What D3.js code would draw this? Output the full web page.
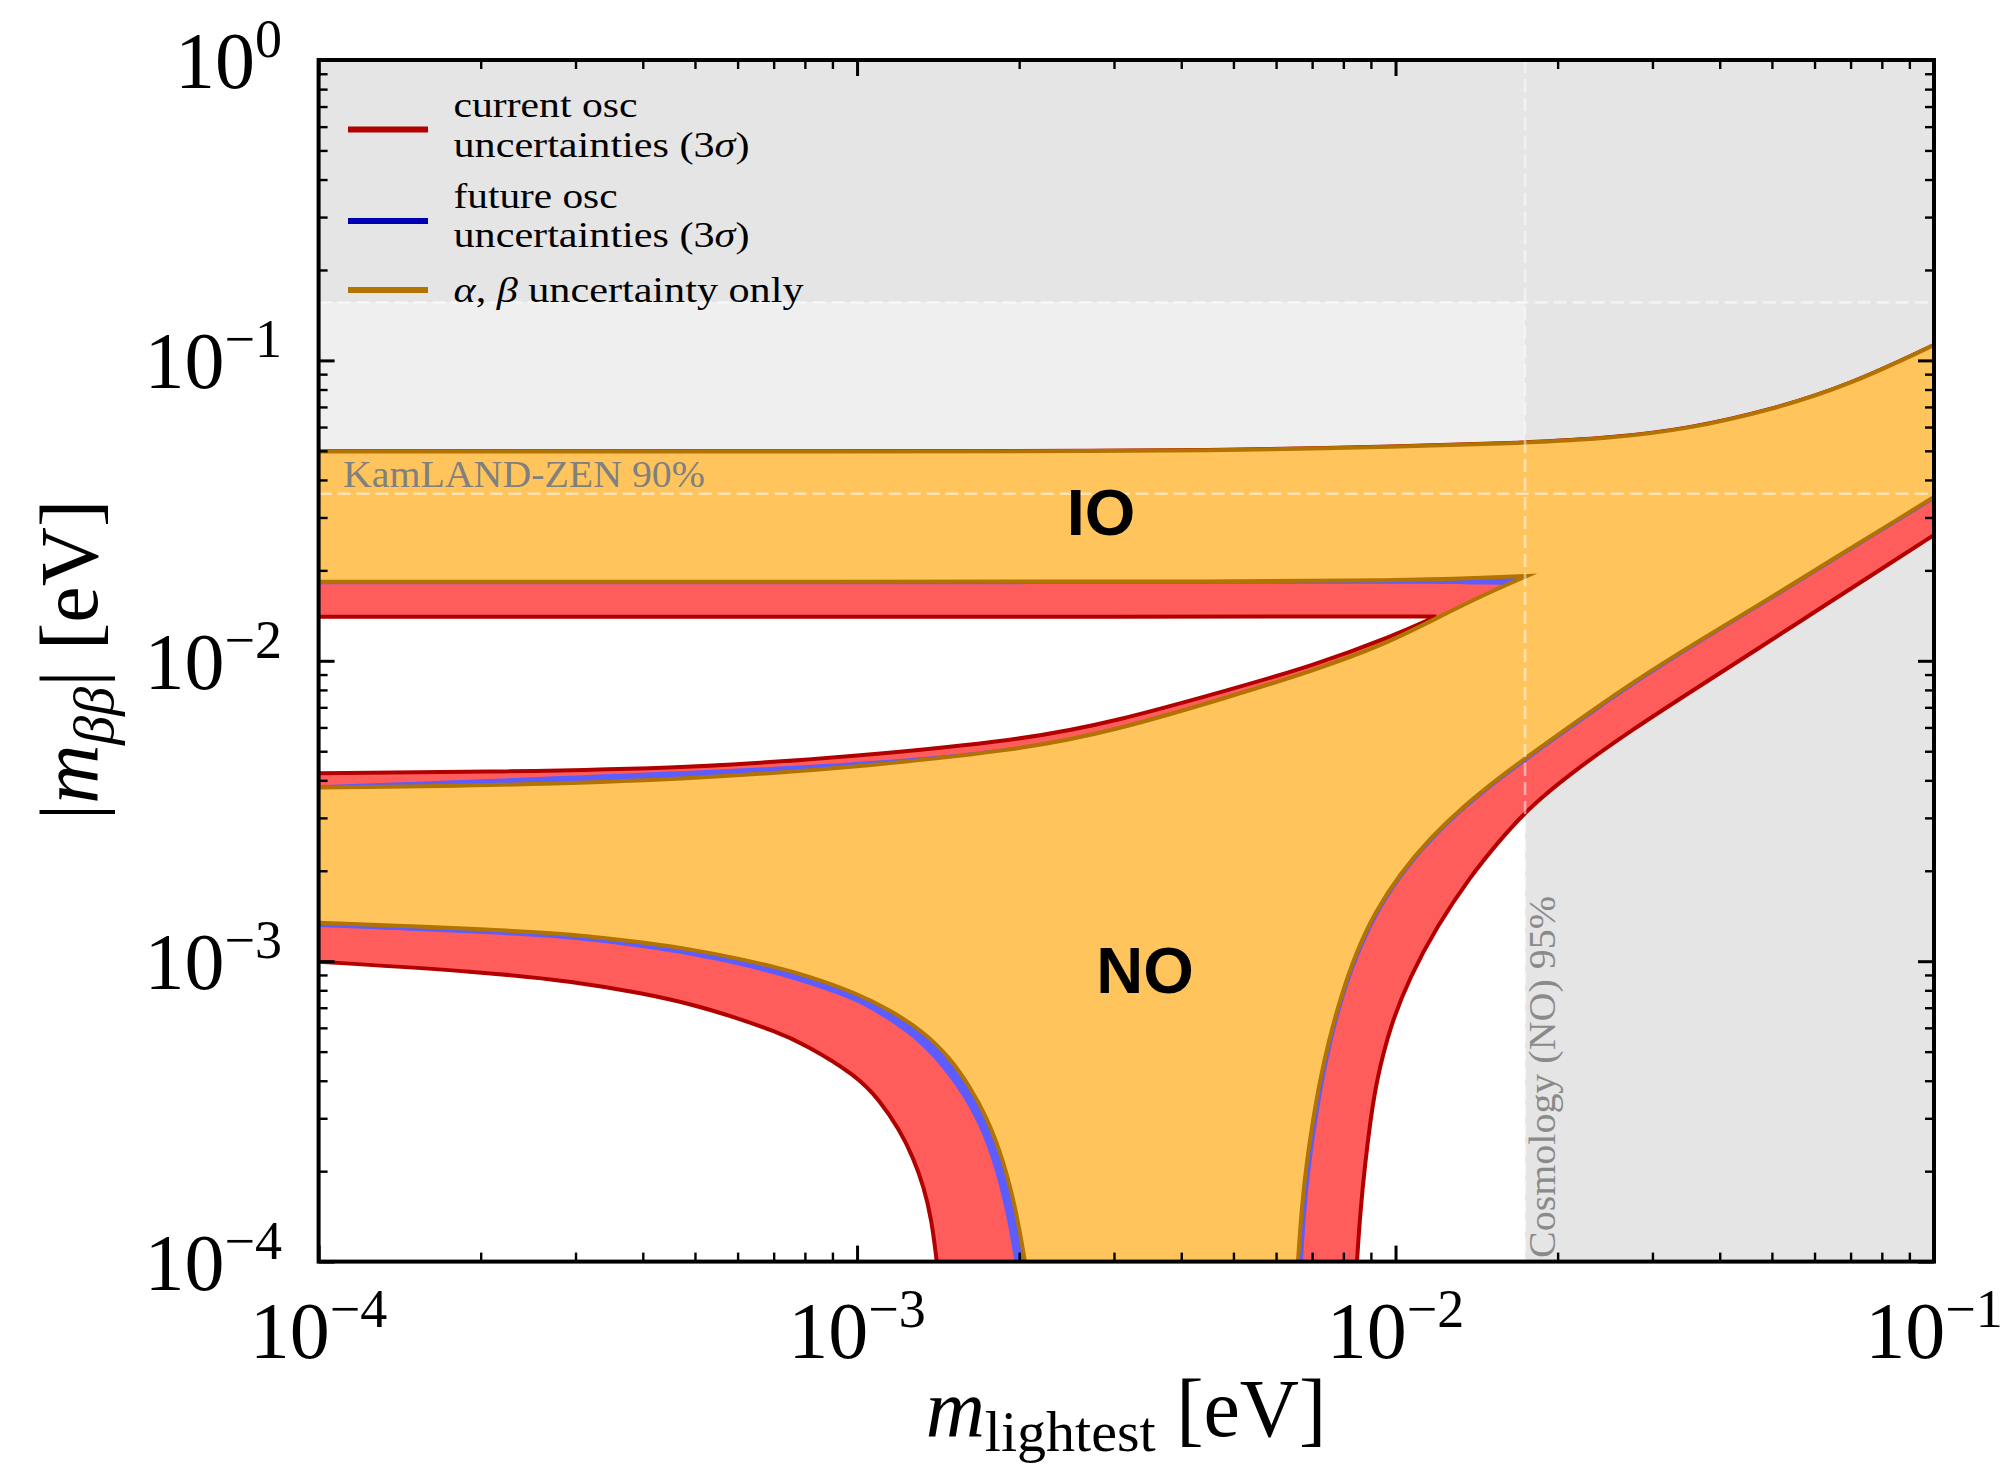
<!DOCTYPE html>
<html>
<head>
<meta charset="utf-8">
<script src="https://cdn.jsdelivr.net/npm/d3@7"></script>
<style>
  body { margin: 0; background: #fff; }
  svg { display: block; }
</style>
</head>
<body>
<svg id="chart" width="2012" height="1467"></svg>
<script>
// ---------------- DATA ----------------
// each point: [m_lightest (eV), |m_bb| (eV)]

// IO band upper edge
const ioUpperOrange = [[1e-4,0.0497],[1e-3,0.0497],[3e-3,0.0499],[5e-3,0.0503],[1e-2,0.0515],[0.0174,0.0531],[0.025,0.0550],[0.035,0.0591],[0.05,0.0684],[0.07,0.0831],[0.1,0.1125]];
const ioUpperRed    = [[1e-4,0.0498],[1e-3,0.0498],[3e-3,0.0500],[5e-3,0.0504],[1e-2,0.0516],[0.0174,0.0532],[0.025,0.0551],[0.035,0.0592],[0.05,0.0685],[0.07,0.0832],[0.1,0.1126]];

// IO band lower edge (up to where it meets the NO upper edge)
const ioLowerOrange = [[1e-4,0.01834],[1e-3,0.01834],[5e-3,0.01836],[1e-2,0.01850],[0.0145,0.01886],[0.01752,0.01915]];
const ioLowerBlue   = [[1e-4,0.01797],[5e-3,0.01799],[1e-2,0.01812],[0.0160,0.01790]];
const ioLowerRed    = [[1e-4,0.01402],[5e-3,0.01402],[1e-2,0.01404],[0.0119,0.01404]];

// NO band upper edge
const noUpperOrange = [[1e-4,0.00379],[2e-4,0.00383],[5e-4,0.00404],[1e-3,0.00443],[2e-3,0.00505],[3e-3,0.00584],[5e-3,0.00766],[7.1e-3,0.00932],[9.5e-3,0.01129],[0.0119,0.01385],[0.01455,0.01656],[0.01752,0.01915]];
const noUpperBlue   = [[1e-4,0.00385],[1e-3,0.00449],[2e-3,0.00512],[3e-3,0.00592],[5e-3,0.00775],[7.1e-3,0.00940],[9.5e-3,0.01138],[0.0119,0.01392],[0.0145,0.01650],[0.0160,0.01790]];
const noUpperRed    = [[1e-4,0.004222],[2e-4,0.004264],[5e-4,0.004396],[1e-3,0.004821],[2e-3,0.005430],[3e-3,0.006256],[5e-3,0.008087],[7e-3,0.00961],[1e-2,0.01219],[0.0119,0.01404]];

// NO band lower edge, left branch (from m=1e-4 down to the bottom of the plot)
const noLowerLeftOrange = [[1e-4,1.343e-3],[2e-4,1.280e-3],[3e-4,1.231e-3],[4e-4,1.154e-3],[5e-4,1.090e-3],[6e-4,1.022e-3],[7e-4,0.959e-3],[8e-4,0.900e-3],[1e-3,0.782e-3],[1.15e-3,0.688e-3],[1.33e-3,0.583e-3],[1.49e-3,0.475e-3],[1.62e-3,0.382e-3],[1.74e-3,0.304e-3],[1.87e-3,0.218e-3],[1.98e-3,0.145e-3],[2.05e-3,1.0e-4]];
const noLowerLeftBlue   = [[1e-4,1.300e-3],[2e-4,1.236e-3],[3e-4,1.186e-3],[4e-4,1.106e-3],[5e-4,1.041e-3],[6e-4,0.971e-3],[7e-4,0.907e-3],[8e-4,0.846e-3],[1e-3,0.737e-3],[1.12e-3,0.652e-3],[1.28e-3,0.555e-3],[1.43e-3,0.451e-3],[1.56e-3,0.364e-3],[1.68e-3,0.289e-3],[1.80e-3,0.208e-3],[1.90e-3,0.140e-3],[1.96e-3,1.0e-4]];
const noLowerLeftRed    = [[1e-4,0.996e-3],[2e-4,0.923e-3],[3e-4,0.855e-3],[4e-4,0.782e-3],[5e-4,0.715e-3],[6e-4,0.646e-3],[7e-4,0.586e-3],[8e-4,0.530e-3],[1e-3,0.415e-3],[1.10e-3,0.345e-3],[1.20e-3,0.274e-3],[1.27e-3,0.223e-3],[1.33e-3,0.178e-3],[1.376e-3,0.1375e-3],[1.406e-3,1.0e-4]];

// NO band lower edge, right branch (from the bottom of the plot up to m=0.1)
const noLowerRightOrange = [[6.588e-3,1.0e-4],[6.702e-3,1.554e-4],[6.847e-3,2.179e-4],[7.025e-3,2.960e-4],[7.238e-3,4.022e-4],[7.522e-3,5.465e-4],[7.884e-3,7.428e-4],[8.407e-3,1.0488e-3],[9.157e-3,1.4582e-3],[1.0190e-2,1.9519e-3],[1.1590e-2,2.5711e-3],[1.3453e-2,3.3111e-3],[1.5631e-2,4.1031e-3],[1.7537e-2,4.7832e-3],[2.2284e-2,6.5013e-3],[2.7597e-2,8.5015e-3],[3.6747e-2,1.1727e-2],[4.8930e-2,1.5937e-2],[6.4924e-2,2.1823e-2],[8.6448e-2,2.9878e-2],[0.1,3.5107e-2]];
const noLowerRightBlue   = [[6.731e-3,1.0e-4],[6.833e-3,1.554e-4],[6.980e-3,2.179e-4],[7.155e-3,2.960e-4],[7.362e-3,4.022e-4],[7.636e-3,5.465e-4],[7.986e-3,7.428e-4],[8.497e-3,1.0249e-3],[9.236e-3,1.4251e-3],[1.0255e-2,1.9075e-3],[1.1640e-2,2.5127e-3],[1.3511e-2,3.2359e-3],[1.5698e-2,4.0099e-3],[1.7612e-2,4.6744e-3],[2.2380e-2,6.3536e-3],[2.7715e-2,8.3081e-3],[3.6747e-2,1.1461e-2],[4.8930e-2,1.5575e-2],[6.4924e-2,2.1327e-2],[8.6448e-2,2.9199e-2],[0.1,3.4309e-2]];
const noLowerRightRed    = [[8.479e-3,1.0e-4],[8.607e-3,1.4847e-4],[8.774e-3,2.0970e-4],[8.983e-3,2.9600e-4],[9.224e-3,4.0218e-4],[9.763e-3,6.0516e-4],[1.0636e-2,8.8784e-4],[1.1924e-2,1.3023e-3],[1.3744e-2,1.9075e-3],[1.5631e-2,2.5319e-3],[1.7537e-2,3.1867e-3],[2.0809e-2,4.1347e-3],[2.7597e-2,5.9291e-3],[3.6747e-2,8.2447e-3],[4.8930e-2,1.1464e-2],[6.4924e-2,1.5937e-2],[8.6448e-2,2.2159e-2],[0.1,2.6228e-2]];

// experimental bounds
const kamlandLimits = [0.036, 0.156];   // KamLAND-Zen 90% band in |m_bb|
const cosmologyLimit = [0.0174];         // m_lightest bound (NO) 95%

// axes
const xDomain = [1e-4, 1e-1];
const yDomain = [1e-4, 1];
const xTickValues = [1e-4, 1e-3, 1e-2, 1e-1];
const xTickExponents = ['\u22124', '\u22123', '\u22122', '\u22121'];
const yTickValues = [1, 1e-1, 1e-2, 1e-3, 1e-4];
const yTickExponents = ['0', '\u22121', '\u22122', '\u22123', '\u22124'];

// legend
const legendLabels = [
  ['current osc', 'uncertainties (3σ)'],
  ['future osc', 'uncertainties (3σ)'],
  ['α, β uncertainty only']
];
const regionLabels = ['IO', 'NO'];
const boundLabels = ['KamLAND-ZEN 90%', 'Cosmology (NO) 95%'];

// ---------------- DRAWING ----------------
const COL = {
  redFill: '#ff5c5c', redEdge: '#b20000',
  blueFill: '#5c5cff', blueEdge: '#0000b2',
  orFill: '#ffc55c', orEdge: '#b27300',
  grayDark: '#e5e5e5', grayLight: '#efefef'
};
const SERIF = "'Liberation Serif', 'Times New Roman', serif";
const SANS = "'Liberation Sans', Arial, sans-serif";

const P = { left: 318.6, right: 1934, top: 60, bottom: 1261.6 };
const x = d3.scaleLog().domain(xDomain).range([P.left, P.right]);
const y = d3.scaleLog().domain(yDomain).range([P.bottom, P.top]);

const svg = d3.select('#chart');
svg.append('rect').attr('width', 2012).attr('height', 1467).attr('fill', '#fff');

svg.append('defs').append('clipPath').attr('id', 'clip')
  .append('rect').attr('x', P.left).attr('y', P.top)
  .attr('width', P.right - P.left).attr('height', P.bottom - P.top);

const plot = svg.append('g').attr('clip-path', 'url(#clip)');

// gray exclusion regions
plot.append('rect').attr('x', P.left).attr('width', P.right - P.left)
  .attr('y', y(kamlandLimits[1])).attr('height', y(kamlandLimits[0]) - y(kamlandLimits[1]))
  .attr('fill', COL.grayLight);
plot.append('rect').attr('x', P.left).attr('width', P.right - P.left)
  .attr('y', y(yDomain[1])).attr('height', y(kamlandLimits[1]) - y(yDomain[1]))
  .attr('fill', COL.grayDark);
plot.append('rect').attr('x', x(cosmologyLimit[0])).attr('width', x(xDomain[1]) - x(cosmologyLimit[0]))
  .attr('y', P.top).attr('height', P.bottom - P.top)
  .attr('fill', COL.grayDark);

// band polygons
const lineGen = d3.line().curve(d3.curveBasis);
const px = d => [x(d[0]), y(d[1])];
function bandPath(ioUp, noLoR, noLoL, noUp, ioLo) {
  const farL = 5e-5, farR = 0.2, farB = 5e-5;
  const parts = [
    { pt: [farL, ioUp[0][1]] },
    { c: ioUp },
    { pt: [farR, ioUp[ioUp.length - 1][1]] },
    { pt: [farR, noLoR[noLoR.length - 1][1]] },
    { c: noLoR.slice().reverse() },
    { pt: [noLoR[0][0], farB] },
    { pt: [noLoL[noLoL.length - 1][0], farB] },
    { c: noLoL.slice().reverse() },
    { pt: [farL, noLoL[0][1]] },
    { pt: [farL, noUp[0][1]] },
    { c: noUp },
    { c: ioLo.slice().reverse() },
    { pt: [farL, ioLo[0][1]] }
  ];
  let d = '';
  parts.forEach((p, i) => {
    if (p.pt) {
      const q = px(p.pt);
      d += (i === 0 ? 'M' : 'L') + q[0] + ',' + q[1];
    } else {
      const s = lineGen(p.c.map(px));
      d += (i === 0 ? s : 'L' + s.slice(1));
    }
  });
  return d + 'Z';
}

plot.append('path')
  .attr('d', bandPath(ioUpperRed, noLowerRightRed, noLowerLeftRed, noUpperRed, ioLowerRed))
  .attr('fill', COL.redFill).attr('stroke', COL.redEdge).attr('stroke-width', 4)
  .attr('stroke-linejoin', 'miter');
plot.append('path')
  .attr('d', bandPath(ioUpperOrange, noLowerRightBlue, noLowerLeftBlue, noUpperBlue, ioLowerBlue))
  .attr('fill', COL.blueFill).attr('stroke', 'none');
plot.append('path')
  .attr('d', bandPath(ioUpperOrange, noLowerRightOrange, noLowerLeftOrange, noUpperOrange, ioLowerOrange))
  .attr('fill', COL.orFill).attr('stroke', COL.orEdge).attr('stroke-width', 4)
  .attr('stroke-linejoin', 'miter').attr('stroke-miterlimit', 12);

// dashed bound lines
const dashStyle = s => s.attr('stroke', '#fff').attr('stroke-opacity', 0.5)
  .attr('stroke-width', 2.6).attr('stroke-dasharray', '13,6').attr('fill', 'none');
kamlandLimits.forEach(v => {
  plot.append('line').attr('x1', P.left).attr('x2', P.right)
    .attr('y1', y(v)).attr('y2', y(v)).call(dashStyle);
});
plot.append('line').attr('x1', x(cosmologyLimit[0])).attr('x2', x(cosmologyLimit[0]))
  .attr('y1', P.top).attr('y2', P.bottom).call(dashStyle);

// bound labels
plot.append('text').attr('x', 343).attr('y', 486.5)
  .attr('font-family', SERIF).attr('font-size', 38).attr('fill', '#808080')
  .attr('textLength', 362).attr('lengthAdjust', 'spacingAndGlyphs')
  .text(boundLabels[0]);
plot.append('text').attr('transform', `translate(1555,1258) rotate(-90)`)
  .attr('font-family', SERIF).attr('font-size', 38).attr('fill', '#8a8a8a')
  .attr('textLength', 362).attr('lengthAdjust', 'spacingAndGlyphs')
  .text(boundLabels[1]);

// region labels
plot.append('text').attr('x', 1101).attr('y', 535).attr('text-anchor', 'middle')
  .attr('font-family', SANS).attr('font-weight', 'bold').attr('font-size', 65)
  .text(regionLabels[0]);
plot.append('text').attr('x', 1145).attr('y', 993).attr('text-anchor', 'middle')
  .attr('font-family', SANS).attr('font-weight', 'bold').attr('font-size', 65)
  .text(regionLabels[1]);

// legend
function richText(sel, str) {
  const greek = 'σαβ';
  let buf = '';
  const flush = () => { if (buf) { sel.append('tspan').text(buf); buf = ''; } };
  for (const ch of str) {
    if (greek.includes(ch)) { flush(); sel.append('tspan').attr('font-style', 'italic').text(ch); }
    else buf += ch;
  }
  flush();
}
const legendColors = [COL.redEdge, COL.blueEdge, COL.orEdge];
const legendLineY = [129.6, 221, 290];
const legendTextY = [[116.8, 156.5], [208, 247], [302]];
const legendTextLen = [[184, 296], [164, 296], [350]];
const legend = svg.append('g');
legendLabels.forEach((lines, i) => {
  legend.append('line').attr('x1', 348).attr('x2', 428)
    .attr('y1', legendLineY[i]).attr('y2', legendLineY[i])
    .attr('stroke', legendColors[i]).attr('stroke-width', 6);
  lines.forEach((ln, j) => {
    const t = legend.append('text').attr('x', 453.5).attr('y', legendTextY[i][j])
      .attr('font-family', SERIF).attr('font-size', 36).attr('fill', '#000')
      .attr('textLength', legendTextLen[i][j]).attr('lengthAdjust', 'spacingAndGlyphs');
    richText(t, ln);
  });
});

// ticks (inward, on all four sides)
function minorTicks(domain) {
  const out = [];
  const e0 = Math.round(Math.log10(domain[0])), e1 = Math.round(Math.log10(domain[1]));
  for (let e = e0; e < e1; e++) for (let k = 2; k <= 9; k++) out.push(k * Math.pow(10, e));
  return out;
}
const xMinor = minorTicks(xDomain), yMinor = minorTicks(yDomain);
function drawAxis(axisFn, scale, vals, size, tr, width) {
  const g = svg.append('g').attr('transform', tr)
    .call(axisFn(scale).tickValues(vals).tickSizeInner(-size).tickSizeOuter(0).tickFormat(''));
  g.select('.domain').remove();
  g.selectAll('line').attr('stroke', '#000').attr('stroke-width', width);
}
drawAxis(d3.axisBottom, x, xTickValues, 16, `translate(0,${P.bottom})`, 3);
drawAxis(d3.axisBottom, x, xMinor, 9, `translate(0,${P.bottom})`, 2.4);
drawAxis(d3.axisTop, x, xTickValues, 16, `translate(0,${P.top})`, 3);
drawAxis(d3.axisTop, x, xMinor, 9, `translate(0,${P.top})`, 2.4);
drawAxis(d3.axisLeft, y, yTickValues, 16, `translate(${P.left},0)`, 3);
drawAxis(d3.axisLeft, y, yMinor, 9, `translate(${P.left},0)`, 2.4);
drawAxis(d3.axisRight, y, yTickValues, 16, `translate(${P.right},0)`, 3);
drawAxis(d3.axisRight, y, yMinor, 9, `translate(${P.right},0)`, 2.4);

// frame
svg.append('rect').attr('x', P.left).attr('y', P.top)
  .attr('width', P.right - P.left).attr('height', P.bottom - P.top)
  .attr('fill', 'none').attr('stroke', '#000').attr('stroke-width', 4);

// tick labels
function powLabel(t, exp) {
  t.append('tspan').text('10');
  t.append('tspan').attr('dy', -31).attr('font-size', 54).text(exp);
}
xTickValues.forEach((v, i) => {
  const t = svg.append('text').attr('x', x(v)).attr('y', 1357.5)
    .attr('text-anchor', 'middle').attr('font-family', SERIF).attr('font-size', 80);
  powLabel(t, xTickExponents[i]);
});
yTickValues.forEach((v, i) => {
  const t = svg.append('text').attr('x', 282).attr('y', y(v) + 28)
    .attr('text-anchor', 'end').attr('font-family', SERIF).attr('font-size', 80);
  powLabel(t, yTickExponents[i]);
});

// axis titles
const xl = svg.append('text').attr('x', 1126).attr('y', 1436).attr('text-anchor', 'middle')
  .attr('font-family', SERIF).attr('font-size', 82);
xl.append('tspan').attr('font-style', 'italic').text('m');
xl.append('tspan').attr('font-size', 58).attr('dy', 15).text('lightest');
xl.append('tspan').attr('dy', -15).text(' [eV]');

const yl = svg.append('text').attr('transform', 'translate(97,660) rotate(-90)')
  .attr('text-anchor', 'middle').attr('font-family', SERIF).attr('font-size', 82);
yl.append('tspan').text('|');
yl.append('tspan').attr('font-style', 'italic').text('m');
yl.append('tspan').attr('font-style', 'italic').attr('font-size', 58).attr('dy', 16).text('ββ');
yl.append('tspan').attr('dy', -16).text('| [eV]');
</script>
</body>
</html>
